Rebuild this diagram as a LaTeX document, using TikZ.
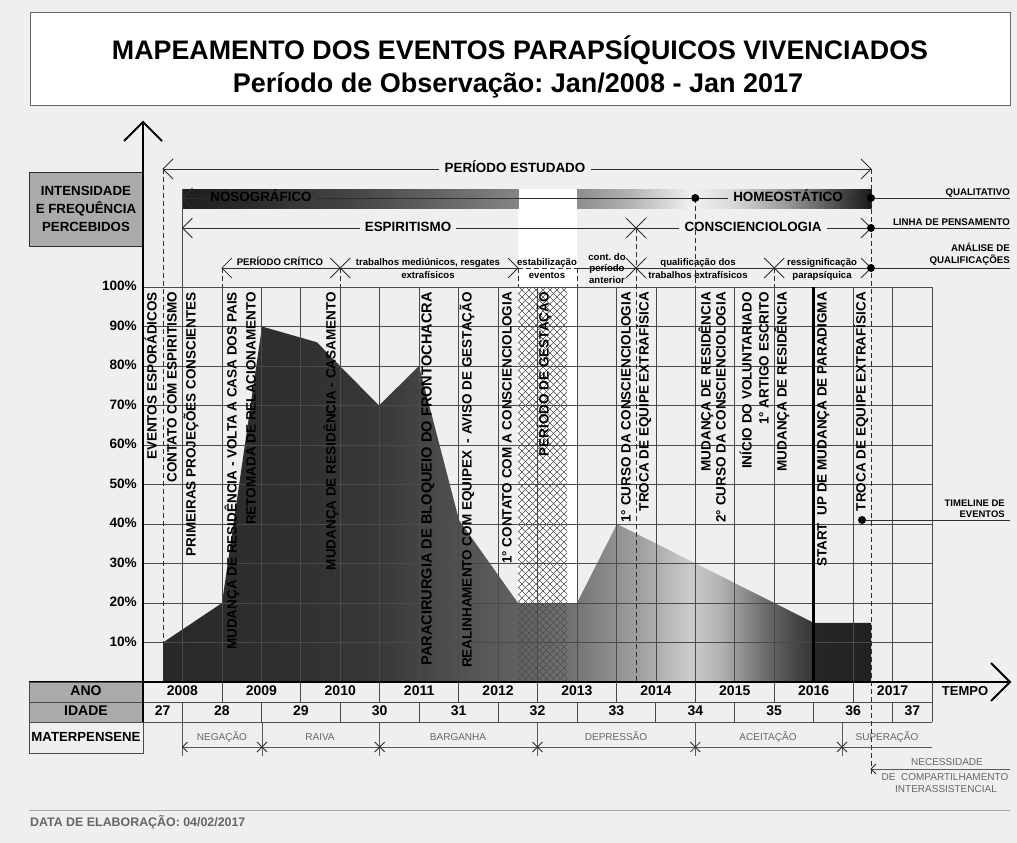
\documentclass[tikz,border=0pt]{standalone}
\usepackage{fontspec}
\setmainfont{Liberation Sans}
\frenchspacing
\definecolor{bg}{HTML}{EFEFEF}
\definecolor{gridc}{HTML}{4A4A4A}
\definecolor{linec}{HTML}{2E2E2E}
\definecolor{cellgray}{HTML}{AAAAAA}
\definecolor{softtext}{HTML}{666666}
\begin{document}
\begin{tikzpicture}[x=1pt,y=-1pt,
  lt/.pic={\draw[linec,line width=0.8pt] (10,-10) -- (0,0) -- (10,10);},
  rt/.pic={\draw[linec,line width=0.8pt] (-10,-10) -- (0,0) -- (-10,10);},
  xc/.pic={\draw[linec,line width=0.8pt] (-10,-10) -- (10,10) (-10,10) -- (10,-10);},
  vt/.style={rotate=90, anchor=east, inner sep=0pt, text height=.72em, text depth=0pt, font=\bfseries\fontsize{13.5}{14}\selectfont},
  pct/.style={anchor=east, inner sep=0pt, text height=.72em, text depth=0pt, font=\bfseries\fontsize{13.6}{15}\selectfont},
  big/.style={inner sep=5pt, text height=.72em, text depth=0pt, font=\bfseries\fontsize{13.4}{15}\selectfont},
  side/.style={anchor=south east, inner sep=0pt, text depth=0pt, font=\bfseries\fontsize{9.7}{12}\selectfont},
  ana/.style={inner sep=0pt, text height=.72em, text depth=0pt, font=\bfseries\fontsize{9.6}{11}\selectfont},
  stage/.style={inner sep=0pt, text height=.72em, text depth=0pt, text=softtext, font=\fontsize{10}{12}\selectfont},
  tab/.style={inner sep=0pt, text height=.72em, text depth=0pt, font=\bfseries\fontsize{14}{16}\selectfont},
  thinl/.style={linec, line width=0.8pt},
  dsh/.style={linec, line width=0.8pt, dash pattern=on 5pt off 3pt},
  gridl/.style={gridc, line width=0.7pt},
  stagel/.style={gray!70!black, line width=0.6pt},
  tabl/.style={gridc, line width=0.8pt},
  bdot/.style={circle, fill=black, inner sep=0pt, minimum size=8pt},
]
\useasboundingbox (0,0) rectangle (1017,843);
\fill[bg] (0,0) rectangle (1017,843);

% ---------- title ----------
\node[draw=gray!80!black, fill=white, line width=0.8pt, minimum width=980pt, minimum height=93pt, inner sep=0pt] (titlebox) at (520,58.5) {};
\node[anchor=base, inner sep=0pt, font=\bfseries\fontsize{26.8}{30}\selectfont] (t1) at (520,59.5) {MAPEAMENTO DOS EVENTOS PARAPSÍQUICOS VIVENCIADOS};
\node[anchor=base, inner sep=0pt, font=\bfseries\fontsize{27}{30}\selectfont] (t2) at (518,92.5) {Período de Observação: Jan/2008 - Jan 2017};

% ---------- y label box ----------
\node[draw=linec, fill=cellgray, line width=1pt, minimum width=114pt, minimum height=74pt, inner sep=0pt, align=center, font=\bfseries\fontsize{13.3}{18}\selectfont] (ylab) at (86,209) {INTENSIDADE\\E FREQUÊNCIA\\PERCEBIDOS};

% ---------- white column ----------
\fill[white] (518,189) rectangle (577,682);

% ---------- band ----------
\foreach \xa/\ca/\xb/\cb in {182.45/88/260/82, 260/82/350/73, 350/73/430/62, 430/62/518/48, 577/45/630/30, 630/30/690/6, 690/6/730/14, 730/14/790/42, 790/42/840/72, 840/72/871/90}
  \shade[left color=black!\ca, right color=black!\cb] (\xa,189) rectangle (\xb+0.5,208);

% ---------- area ----------
\begin{scope}
\clip (163,682) -- (163,642.5) -- (222,603) -- (262,326.5) -- (317,342.3) -- (340,366) -- (379,405.5) -- (419,366) -- (459,520) -- (518,603) -- (577,603) -- (617,524) -- (813.65,622.75) -- (871,622.75) -- (871,682) -- cycle;
\foreach \xa/\ca/\xb/\cb in {160/84/300/81, 300/81/380/78, 380/78/430/72, 430/72/470/67, 470/67/518/62, 518/62/577/54, 577/54/617/43, 617/43/650/34, 650/34/690/20, 690/20/720/30, 720/30/760/55, 760/55/790/70, 790/70/813.65/80, 813.65/85/875/87}
  \shade[left color=black!\ca, right color=black!\cb] (\xa,280) rectangle (\xb+0.6,690);
\end{scope}

% ---------- grid ----------
\foreach \p in {1,...,10} \draw[gridl] (143,682-39.5*\p) -- (932,682-39.5*\p);
\foreach \k in {2,3,4,5,6,7,8,9,10,11,12,13,14,15,16,18,19,20} \draw[gridl] (143+39.45*\k,287) -- (143+39.45*\k,682);
\draw[gridl] (182.45,189) -- (182.45,682);

% ---------- hatch ----------
\begin{scope}
\clip (518,287) rectangle (567,682);
\foreach \i in {0,...,66} {
  \draw[black!70, line width=0.45pt] (120+7*\i,287) -- ++(400,400);
  \draw[black!70, line width=0.45pt] (518+7*\i,287) -- ++(-400,400);
}
\end{scope}

% start up line
\draw[black, line width=2.6pt] (813.65,287) -- (813.65,682);

% ---------- percent labels ----------
\foreach \p in {1,...,10} \node[pct] (pc\p) at (137,682-39.5*\p) {\p0\%};

% ---------- PERIODO ESTUDADO ----------
\node[big] (pe) at (515,169) {PERÍODO ESTUDADO};
\coordinate (peL) at (163,169); \coordinate (peR) at (871,169);
\draw[thinl] (peL) -- (pe.west) (pe.east) -- (peR);
\pic at (peL) {lt}; \pic at (peR) {rt};

% ---------- band line ----------
\node[big] (noso) at (261,198) {NOSOGRÁFICO};
\node[big] (homeo) at (788,198) {HOMEOSTÁTICO};
\coordinate (bL) at (182.45,198); \coordinate (bM) at (695.3,198); \coordinate (bR) at (871,198); \coordinate (bE) at (1010,198);
\draw[thinl] (bL) -- (noso.west) (noso.east) -- (homeo.west) (homeo.east) -- (bE);
\pic at (bL) {lt};
\node[side] (qual) at (1010,196) {QUALITATIVO};

% ---------- linha de pensamento ----------
\node[big] (esp) at (408,228) {ESPIRITISMO};
\node[big] (cons) at (753,228) {CONSCIENCIOLOGIA};
\coordinate (eL) at (182.45,228); \coordinate (eX) at (636,228); \coordinate (eR) at (871,228); \coordinate (eE) at (1010,228);
\draw[thinl] (eL) -- (esp.west) (esp.east) -- (cons.west) (cons.east) -- (eE);
\pic at (eL) {lt}; \pic at (eX) {xc}; \pic at (eR) {rt};
\node[side] (linha) at (1010,226) {LINHA DE PENSAMENTO};

% ---------- analise ----------
\coordinate (a1) at (221.9,268); \coordinate (a2) at (340.25,268); \coordinate (a3) at (518,268); \coordinate (a4) at (577,268);
\coordinate (a5) at (636,268); \coordinate (a6) at (774.2,268); \coordinate (a7) at (871,268); \coordinate (a8) at (1010,268);
\draw[thinl] (a1) -- (a3); \draw[dsh] (a3) -- (a4); \draw[thinl] (a4) -- (a8);
\pic at (a1) {lt}; \pic at (a2) {xc}; \pic at (a3) {rt}; \pic at (a5) {xc}; \pic at (a6) {xc}; \pic at (a7) {rt};
\node[side] (an1) at (1010,252) {ANÁLISE DE};
\node[side] (an2) at (1010,264) {QUALIFICAÇÕES};
\node[ana] (l1) at (280,262) {PERÍODO CRÍTICO};
\node[ana] (l2a) at (428,262) {trabalhos mediúnicos, resgates};
\node[ana] (l2b) at (428,275) {extrafísicos};
\node[ana] (l3a) at (547,262) {estabilização};
\node[ana] (l3b) at (547,275) {eventos};
\node[ana] (l4a) at (607,257) {cont. do};
\node[ana] (l4b) at (607,268) {período};
\node[ana] (l4c) at (607,280) {anterior};
\node[ana] (l5a) at (698,262) {qualificação dos};
\node[ana] (l5b) at (698,275) {trabalhos extrafísicos};
\node[ana] (l6a) at (822,262) {ressignificação};
\node[ana] (l6b) at (822,275) {parapsíquica};

% ---------- dashed verticals ----------
\draw[dsh] (peL) -- (163,682);
\draw[dsh] (peR) -- (871,777);
\draw[dsh] (eX) -- (636,682);
\draw[dsh] (bM) -- (695.3,287);
\draw[dsh] (a1) -- (221.9,287);
\draw[dsh] (a2) -- (340.25,287);
\draw[dsh] (a3) -- (518,287);
\draw[dsh] (a4) -- (577,287);
\draw[dsh] (a6) -- (774.2,287);

% dots
\node[bdot] (d1) at (bM) {}; \node[bdot] (d2) at (bR) {}; \node[bdot] (d3) at (eR) {}; \node[bdot] (d4) at (a7) {};

% ---------- vertical event labels ----------
\node[vt] (v1) at (153,292) {EVENTOS ESPORÁDICOS};
\node[vt] (v2) at (173,292) {CONTATO COM ESPIRITISMO};
\node[vt] (v3) at (192,292) {PRIMEIRAS PROJEÇÕES CONSCIENTES};
\node[vt] (v4) at (233,292) {MUDANÇA DE RESIDÊNCIA - VOLTA A CASA DOS PAIS};
\node[vt] (v5) at (252,292) {RETOMADA DE RELACIONAMENTO};
\node[vt] (v6) at (332,292) {MUDANÇA DE RESIDÊNCIA - CASAMENTO};
\node[vt, font=\bfseries\fontsize{14.6}{15}\selectfont] (v7) at (428,292) {PARACIRURGIA DE BLOQUEIO DO FRONTOCHACRA};
\node[vt] (v8) at (468,292) {REALINHAMENTO COM EQUIPEX\ \ - AVISO DE GESTAÇÃO};
\node[vt] (v9) at (508,292) {1° CONTATO COM A CONSCIENCIOLOGIA};
\node[vt] (v10) at (545,292) {PERÍODO DE GESTAÇÃO};
\node[vt] (v11) at (627,292) {1° CURSO DA CONSCIENCIOLOGIA};
\node[vt] (v12) at (645,292) {TROCA DE EQUIPE EXTRAFÍSICA};
\node[vt] (v13) at (707,292) {MUDANÇA DE RESIDÊNCIA};
\node[vt] (v14) at (722,292) {2° CURSO DA CONSCIENCIOLOGIA};
\node[vt] (v15) at (748,292) {INÍCIO DO VOLUNTARIADO};
\node[vt] (v16) at (765,292) {1° ARTIGO ESCRITO};
\node[vt] (v17) at (783,292) {MUDANÇA DE RESIDÊNCIA};
\node[vt] (v18) at (823,292) {START\ \ UP DE MUDANÇA DE PARADIGMA};
\node[vt] (v19) at (862,292) {TROCA DE EQUIPE EXTRAFÍSICA};

% timeline
\node[bdot] (tdot) at (862,520) {};
\coordinate (tE) at (1010,520);
\draw[thinl] (tdot) -- (tE);
\node[side, font=\bfseries\fontsize{9.5}{12}\selectfont] (tl1) at (1005,507) {TIMELINE DE};
\node[side, font=\bfseries\fontsize{9.5}{12}\selectfont] (tl2) at (1005,518) {EVENTOS};

% ---------- axes ----------
\coordinate (ytip) at (143,122);
\draw[black, line width=2.3pt] (143,722) -- (ytip);
\draw[black, line width=2pt] (124,141) -- (ytip) -- (162,141);
\coordinate (xtip) at (1010,682);
\draw[black, line width=2.3pt] (29,682) -- (xtip);
\draw[black, line width=2pt] (991,663) -- (xtip) -- (991,701);

% ---------- table ----------
\draw[tabl, fill=cellgray] (29,682) rectangle (143,702);
\draw[tabl, fill=cellgray] (29,702) rectangle (143,722);
\draw[tabl] (29,722) rectangle (143,753);
\draw[tabl] (143,702) -- (932,702) (143,722) -- (932,722) (932,682) -- (932,722);
\foreach \k in {2,4,6,8,10,12,14,16,18} \draw[tabl] (143+39.45*\k,682) -- (143+39.45*\k,702);
\foreach \k in {1,3,5,7,9,11,13,15,17,19} \draw[tabl] (143+39.45*\k,702) -- (143+39.45*\k,722);
\draw[black, line width=2.3pt] (143,682) -- (143,722);
\node[tab] (ano) at (86,692) {ANO};
\node[tab] (idade) at (86,712) {IDADE};
\node[tab, font=\bfseries\fontsize{13.2}{15}\selectfont] (mat) at (86,737.5) {MATERPENSENE};
\foreach \y [count=\i from 0] in {2008,2009,2010,2011,2012,2013,2014,2015,2016,2017}
  \node[tab] (yr\y) at (182.45+78.9*\i,692) {\y};
\node[tab] (g27) at (162.7,712) {27};
\foreach \a [count=\i from 0] in {28,29,30,31,32,33,34,35,36}
  \node[tab] (g\a) at (221.9+78.9*\i,712) {\a};
\node[tab] (g37) at (912.3,712) {37};
\node[tab, font=\bfseries\fontsize{13}{15}\selectfont] (tempo) at (965,692) {TEMPO};

% ---------- materpensene ----------
\draw[stagel] (182.45,747) -- (932,747);
\foreach \x in {182.45,262,379.7,537.5,695.3,842} \draw[stagel] (\x,722) -- (\x,756);
\pic[scale=0.5] at (182.45,747) {lt};
\foreach \x in {262,379.7,537.5,695.3,842} \pic[scale=0.5] at (\x,747) {xc};
\node[stage] (s1) at (222,737) {NEGAÇÃO};
\node[stage] (s2) at (320,737) {RAIVA};
\node[stage] (s3) at (458,737) {BARGANHA};
\node[stage] (s4) at (616,737) {DEPRESSÃO};
\node[stage] (s5) at (768,737) {ACEITAÇÃO};
\node[stage] (s6) at (887,737) {SUPERAÇÃO};

% necessidade
\coordinate (nL) at (871,769); \coordinate (nR) at (1010,769);
\draw[stagel] (nL) -- (nR);
\pic[scale=0.5] at (nL) {lt};
\node[stage] (n1) at (947,762) {NECESSIDADE};
\node[stage] (n2) at (945,777) {DE\ \ COMPARTILHAMENTO};
\node[stage] (n3) at (946,789) {INTERASSISTENCIAL};

% ---------- footer ----------
\draw[gray!70, line width=0.8pt] (29,810) -- (1010,810);
\node[anchor=west, inner sep=0pt, text height=.72em, text depth=0pt, text=softtext, font=\bfseries\fontsize{12.4}{14}\selectfont] (data) at (30,823) {DATA DE ELABORAÇÃO: 04/02/2017};
\end{tikzpicture}
\end{document}
